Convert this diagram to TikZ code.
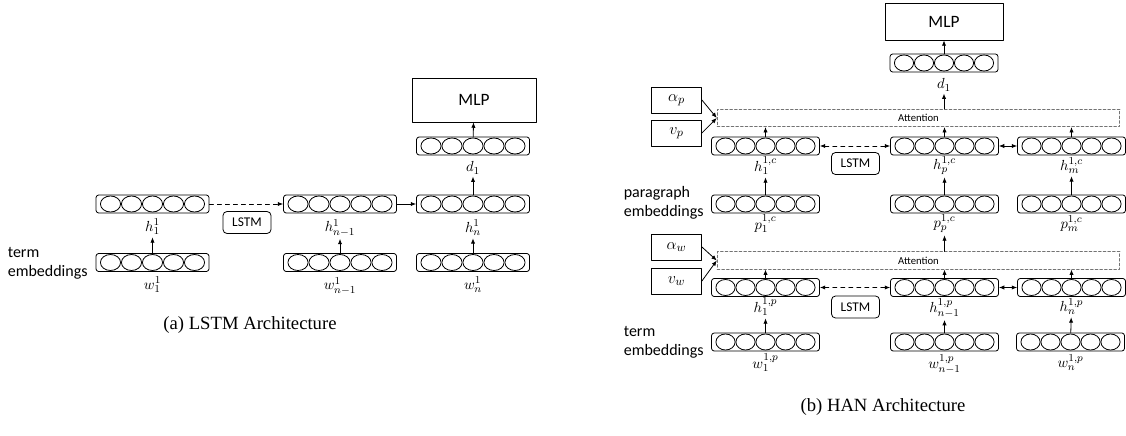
\documentclass[tikz,border=0pt]{standalone}
\usepackage{fontspec}
\setmainfont{Carlito}
\newfontfamily\capfont{Liberation Serif}
\usetikzlibrary{arrows.meta}

\tikzset{
  vecbox/.style={draw, rounded corners=2pt, minimum height=13.5pt, inner sep=0pt},
  lstmbox/.style={draw, rounded corners=3pt, minimum width=36pt, minimum height=16.5pt, inner sep=0pt, font=\fontsize{10}{12}\selectfont},
  mlpbox/.style={draw, inner sep=0pt, font=\fontsize{13}{15}\selectfont},
  attbox/.style={draw=black!55, dash pattern=on 2pt off 1.5pt, minimum width=302pt, minimum height=13pt, inner sep=0pt, font=\fontsize{8}{10}\selectfont},
  wbox/.style={draw, minimum width=37.5pt, minimum height=19.5pt, inner sep=0pt, font=\fontsize{13}{15}\selectfont},
  vlab/.style={inner sep=1.5pt, font=\fontsize{11}{13}\selectfont},
  side/.style={align=left, anchor=east, inner sep=0pt, font=\fontsize{12}{14.5}\selectfont},
  captxt/.style={font=\capfont\fontsize{14}{17}\selectfont}
}

% a vector of five cells: name, x, y, cell size (px)
\newcommand{\vecrow}[4]{%
  \node[vecbox, minimum width={(5*#4+8)*0.75pt}] (#1) at (#2,#3) {};
  \foreach \k in {-2,...,2}
    \draw ([xshift={\k*#4*0.75pt}]#1.center) ellipse [x radius={#4*0.36pt}, y radius=6pt];
}

\begin{document}
\begin{tikzpicture}[line cap=round,line join=round,>={Latex[length=4pt,width=3.2pt]},x=0.75pt,y=-0.75pt,line width=0.6pt]
\useasboundingbox (0,0) rectangle (1126,435);
% (a) LSTM
\vecrow{h1}{152.5}{204}{21}
\vecrow{hn1}{340}{204}{21}
\vecrow{hn}{473}{204}{21}
\vecrow{w1}{152.5}{262.5}{21}
\vecrow{wn1}{340}{262.5}{21}
\vecrow{wn}{473}{262.5}{21}
\vecrow{d1}{473}{146}{21}
\node[mlpbox, minimum width=93pt, minimum height=33pt] (mlp) at (474,100) {MLP};
\node[lstmbox] (lstm) at (247,222.5) {LSTM};
\node[vlab] (lh1) at (152.5,227) {$h_1^1$};
\node[vlab] (lhn1) at (340,228) {$h_{n-1}^1$};
\node[vlab] (lhn) at (473,228) {$h_n^1$};
\node[vlab] (lw1) at (152.5,285) {$w_1^1$};
\node[vlab] (lwn1) at (340,286) {$w_{n-1}^1$};
\node[vlab] (lwn) at (473,285) {$w_n^1$};
\node[vlab] (ld1) at (473,168) {$d_1$};
\node[side] (term) at (88,263) {term\\embeddings};
\node[captxt] (capa) at (250,325) {(a) LSTM Architecture};
\draw[->] (w1) -- (lh1);
\draw[->] (wn1) -- (lhn1);
\draw[->] (wn) -- (lhn);
\draw[->, dashed] (h1) -- (hn1);
\draw[->] (hn1) -- (hn);
\draw[->] (hn) -- (ld1);
\draw[->] (d1) -- (mlp);
% (b) HAN
\vecrow{dd1}{944}{63}{20}
\node[mlpbox, minimum width=88.5pt, minimum height=27.75pt] (mlpb) at (944,21.5) {MLP};
\node[vlab] (ldd1) at (944,85) {$d_1$};
\node[attbox] (attp) at (918.5,118) {Attention};
\node[wbox] (ap) at (676.5,100) {$\alpha_p$};
\node[wbox] (vp) at (676.5,133) {$v_p$};
\vecrow{hc1}{765.5}{146}{20}
\vecrow{hcp}{944.5}{146}{20}
\vecrow{hcm}{1071.5}{146}{20}
\node[lstmbox] (lstmc) at (855.5,163.5) {LSTM};
\node[vlab] (lhc1) at (765.5,166) {$h_1^{1,c}$};
\node[vlab] (lhcp) at (944.5,166) {$h_p^{1,c}$};
\node[vlab] (lhcm) at (1071.5,166) {$h_m^{1,c}$};
\vecrow{pc1}{765.5}{204}{20}
\vecrow{pcp}{944.5}{204}{20}
\vecrow{pcm}{1071.5}{204}{20}
\node[vlab] (lpc1) at (765.5,224) {$p_1^{1,c}$};
\node[vlab] (lpcp) at (944.5,224) {$p_p^{1,c}$};
\node[vlab] (lpcm) at (1071.5,224) {$p_m^{1,c}$};
\node[side] (para) at (704,202.5) {paragraph\\embeddings};
\node[attbox] (attw) at (918.5,260.5) {Attention};
\node[wbox] (aw) at (676.5,247) {$\alpha_w$};
\node[wbox] (vw) at (676.5,281) {$v_w$};
\vecrow{hp1}{765.5}{287.5}{20}
\vecrow{hpn1}{944.5}{287.5}{20}
\vecrow{hpn}{1071.5}{287.5}{20}
\node[lstmbox] (lstmp) at (855.5,307) {LSTM};
\node[vlab] (lhp1) at (765.5,307) {$h_1^{1,p}$};
\node[vlab] (lhpn1) at (944.5,308) {$h_{n-1}^{1,p}$};
\node[vlab] (lhpn) at (1071.5,307) {$h_n^{1,p}$};
\vecrow{wp1}{765.5}{342}{20}
\vecrow{wpn1}{944.5}{342}{20}
\vecrow{wpn}{1070.5}{342}{20}
\node[vlab] (lwp1) at (765.5,363) {$w_1^{1,p}$};
\node[vlab] (lwpn1) at (944.5,364) {$w_{n-1}^{1,p}$};
\node[vlab] (lwpn) at (1070.5,363) {$w_n^{1,p}$};
\node[side] (termb) at (704,342.5) {term\\embeddings};
\node[captxt] (capb) at (883,407) {(b) HAN Architecture};
\draw[->] (dd1) -- (mlpb);
\draw[->] (ldd1 |- attp.north) -- (ldd1);
\draw[->] (ap.east) -- (attp.west);
\draw[->] (vp.east) -- (attp.west);
\foreach \n in {hc1,hcp,hcm} \draw[->] (\n) -- (\n |- attp.south);
\draw[<->, dashed] (hc1) -- (hcp);
\draw[<->] (hcp) -- (hcm);
\draw[->] (pc1) -- (lhc1);
\draw[->] (pcp) -- (lhcp);
\draw[->] (pcm) -- (lhcm);
\draw[->] (lpcp |- attw.north) -- (lpcp);
\draw[->] (aw.east) -- (attw.west);
\draw[->] (vw.east) -- (attw.west);
\foreach \n in {hp1,hpn1,hpn} \draw[->] (\n) -- (\n |- attw.south);
\draw[<->, dashed] (hp1) -- (hpn1);
\draw[<->] (hpn1) -- (hpn);
\draw[->] (wp1) -- (lhp1);
\draw[->] (wpn1) -- (lhpn1);
\draw[->] (wpn) -- (lhpn);
\end{tikzpicture}
\end{document}
